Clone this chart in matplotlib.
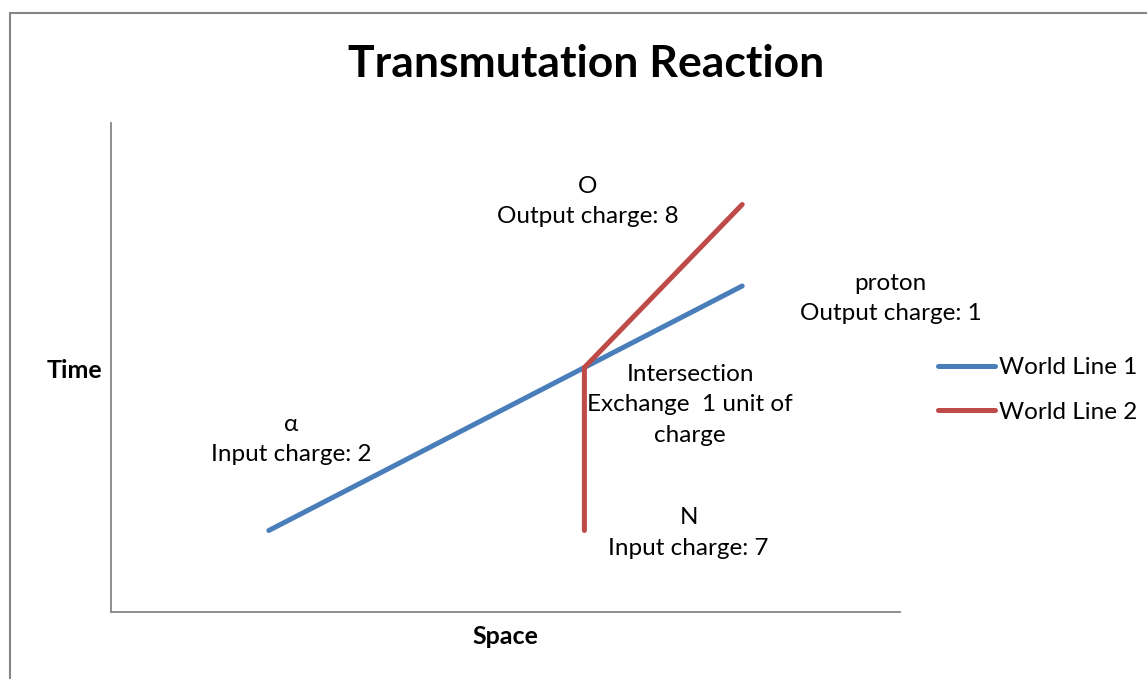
import matplotlib
matplotlib.use("Agg")
import matplotlib.pyplot as plt
from matplotlib.patches import Rectangle

plt.rcParams['font.family'] = ['Lato', 'DejaVu Sans']

# Data
line1_x = [1, 3, 4]
line1_y = [1, 3, 4]
line2_x = [3, 3, 4]
line2_y = [1, 3, 5]
series_names = ["World Line 1", "World Line 2"]
colors = ["#4a7ebb", "#be4b48"]

labels = [
    ("α\nInput charge: 2", 1.14, 2.12),
    ("O\nOutput charge: 8", 3.02, 5.04),
    ("proton\nOutput charge: 1", 4.94, 3.85),
    ("Intersection\nExchange  1 unit of\ncharge", 3.67, 2.54),
    ("N\nInput charge: 7", 3.66, 0.97),
]

W, H = 1147, 679
fig = plt.figure(figsize=(W / 100, H / 100), dpi=100)
fig.patches.append(Rectangle((10 / W, -0.1), 1.2, (H - 13) / H + 0.1,
                             transform=fig.transFigure, fill=False,
                             edgecolor="#868686", linewidth=1.5))

ax = fig.add_axes([111 / W, 67 / H, 789 / W, 489 / H])
ax.plot(line1_x, line1_y, color=colors[0], lw=3.6, label=series_names[0],
        solid_capstyle='round')
ax.plot(line2_x, line2_y, color=colors[1], lw=3.6, label=series_names[1],
        solid_capstyle='round')
ax.set_xlim(0, 5)
ax.set_ylim(0, 6)
ax.set_xticks([])
ax.set_yticks([])
for s in ["top", "right"]:
    ax.spines[s].set_visible(False)
for s in ["left", "bottom"]:
    ax.spines[s].set_color("#868686")
    ax.spines[s].set_linewidth(1.3)

for txt, x, y in labels:
    ax.text(x, y, txt, ha='center', va='center', fontsize=17.5,
            linespacing=1.55, color="black")

ax.set_xlabel("Space", fontsize=18, fontweight='bold', labelpad=9)
ax.set_ylabel("Time", fontsize=18, fontweight='bold', rotation=0,
              ha='center', va='center')
ax.yaxis.set_label_coords(-0.046, 0.493)

fig.text(586 / W, 1 - 64 / H, "Transmutation Reaction", fontsize=32,
         fontweight='bold', ha='center', va='center')

leg = ax.legend(loc='center left', bbox_to_anchor=(938 / W, 1 - 390 / H),
                bbox_transform=fig.transFigure, frameon=False, fontsize=17.5,
                handlelength=2.35, handletextpad=0.15, labelspacing=0.95,
                borderpad=0, borderaxespad=0)

fig.savefig("out.png", dpi=100)
